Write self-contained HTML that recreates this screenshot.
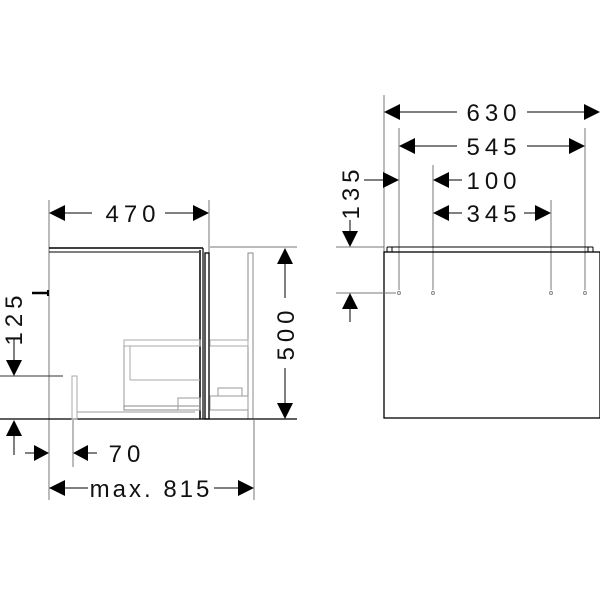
<!DOCTYPE html>
<html><head><style>
html,body{margin:0;padding:0;background:#fff;}
svg{display:block;}
text{font-family:"Liberation Sans",sans-serif;font-size:24px;fill:#111;letter-spacing:5px;text-anchor:middle;}
</style></head><body>
<svg width="600" height="600" viewBox="0 0 600 600" xmlns="http://www.w3.org/2000/svg">
<g stroke="#000" fill="none" stroke-width="1">
<line x1="49" y1="200" x2="49" y2="500" stroke="#777"/>
<line x1="209" y1="200" x2="209" y2="253" stroke="#777"/>
<line x1="49" y1="248" x2="203" y2="248" stroke-width="1.5"/>
<line x1="49" y1="252" x2="199" y2="252"/>
<line x1="200" y1="250" x2="200" y2="419" stroke-width="1.5"/>
<line x1="203" y1="248" x2="203" y2="419" stroke-width="1.2"/>
<rect x="205" y="253" width="4" height="166" stroke-width="1.3"/>
<line x1="210" y1="247" x2="297" y2="247" stroke="#777"/>
<rect x="248" y="253" width="5" height="166" stroke="#888"/>
<line x1="0" y1="419" x2="297" y2="419" stroke-width="1.3"/>
<line x1="254" y1="419" x2="254" y2="500" stroke="#777"/>
<line x1="32" y1="293" x2="48" y2="293" stroke-width="2.5"/>
<line x1="48" y1="290" x2="48" y2="296" stroke-width="2"/>
<line x1="0" y1="376" x2="63" y2="376" stroke="#333"/>
<rect x="72" y="376" width="5" height="43" stroke="#aaa"/>
<line x1="77" y1="412" x2="195" y2="412" stroke="#999"/>
<rect x="124" y="340" width="76" height="6" stroke="#aaa"/>
<line x1="124" y1="346" x2="124" y2="408" stroke="#999"/>
<line x1="130" y1="346" x2="130" y2="380" stroke="#aaa"/>
<line x1="130" y1="380" x2="200" y2="380" stroke="#aaa"/>
<rect x="124" y="406" width="76" height="4" stroke="#888"/>
<rect x="178" y="398" width="22" height="12" stroke="#999"/>
<rect x="210" y="340" width="38" height="6" stroke="#aaa"/>
<rect x="210" y="396" width="38" height="14" stroke="#999"/>
<rect x="218" y="388" width="24" height="8" stroke="#999"/>
<line x1="64" y1="213" x2="92" y2="213"/>
<line x1="165" y1="213" x2="194" y2="213"/>
<line x1="285" y1="263" x2="285" y2="298"/>
<line x1="285" y1="368" x2="285" y2="404"/>
<line x1="14" y1="338" x2="14" y2="361"/>
<line x1="14" y1="435" x2="14" y2="455"/>
<line x1="73" y1="420" x2="73" y2="467" stroke="#777"/>
<line x1="25" y1="453" x2="35" y2="453"/>
<line x1="87" y1="453" x2="97" y2="453"/>
<line x1="64" y1="488" x2="88" y2="488"/>
<line x1="214" y1="488" x2="239" y2="488"/>

<line x1="384" y1="95" x2="384" y2="252" stroke="#777"/>
<line x1="399" y1="128" x2="399" y2="290" stroke="#777"/>
<line x1="585" y1="128" x2="585" y2="290" stroke="#777"/>
<line x1="433" y1="165" x2="433" y2="290" stroke="#777"/>
<line x1="551" y1="200" x2="551" y2="290" stroke="#777"/>
<rect x="384" y="252" width="216" height="166" stroke-width="1.3"/>
<line x1="387" y1="247" x2="593" y2="247"/>
<line x1="387" y1="247" x2="387" y2="252"/><line x1="392" y1="247" x2="392" y2="252"/>
<line x1="588" y1="247" x2="588" y2="252"/><line x1="593" y1="247" x2="593" y2="252"/>
<line x1="336" y1="247" x2="384" y2="247" stroke="#777"/>
<line x1="336" y1="293" x2="396" y2="293" stroke="#777"/>
<g stroke="#888"><circle cx="399" cy="293" r="1.5"/><circle cx="433" cy="293" r="1.5"/><circle cx="551" cy="293" r="1.5"/><circle cx="585" cy="293" r="1.5"/></g>
<line x1="399" y1="112" x2="457" y2="112"/>
<line x1="527" y1="112" x2="585" y2="112"/>
<line x1="414" y1="146" x2="457" y2="146"/>
<line x1="527" y1="146" x2="570" y2="146"/>
<line x1="364" y1="180" x2="384" y2="180"/>
<line x1="448" y1="180" x2="462" y2="180"/>
<line x1="448" y1="213" x2="462" y2="213"/>
<line x1="524" y1="213" x2="536" y2="213"/>
<line x1="350" y1="220" x2="350" y2="232"/>
<line x1="350" y1="308" x2="350" y2="322"/>
</g>
<g fill="#000">
<polygon points="49,213 65,205 65,221"/><polygon points="209,213 193,205 193,221"/>
<polygon points="285,248 277,264 293,264"/><polygon points="285,419 277,403 293,403"/>
<polygon points="14,376 6,360 22,360"/><polygon points="14,420 6,436 22,436"/>
<polygon points="49,453 34,445 34,461"/><polygon points="73,453 88,445 88,461"/>
<polygon points="49,488 65,480 65,496"/><polygon points="254,488 238,480 238,496"/>
<polygon points="384,112 400,104 400,120"/><polygon points="600,112 584,104 584,120"/>
<polygon points="399,146 415,138 415,154"/><polygon points="585,146 569,138 569,154"/>
<polygon points="399,180 383,172 383,188"/><polygon points="433,180 449,172 449,188"/>
<polygon points="433,213 449,205 449,221"/><polygon points="551,213 535,205 535,221"/>
<polygon points="350,247 342,231 358,231"/><polygon points="350,293 342,309 358,309"/>
</g>
<text x="133" y="222">470</text>
<text x="127" y="462">70</text>
<text x="151" y="497" style="letter-spacing:3px">max. 815</text>
<text transform="translate(294,333) rotate(-90)">500</text>
<text transform="translate(22,318) rotate(-90)">125</text>
<text x="494" y="121">630</text>
<text x="494" y="155">545</text>
<text x="494" y="189">100</text>
<text x="494" y="222">345</text>
<text transform="translate(359,192) rotate(-90)">135</text>
</svg>
</body></html>
